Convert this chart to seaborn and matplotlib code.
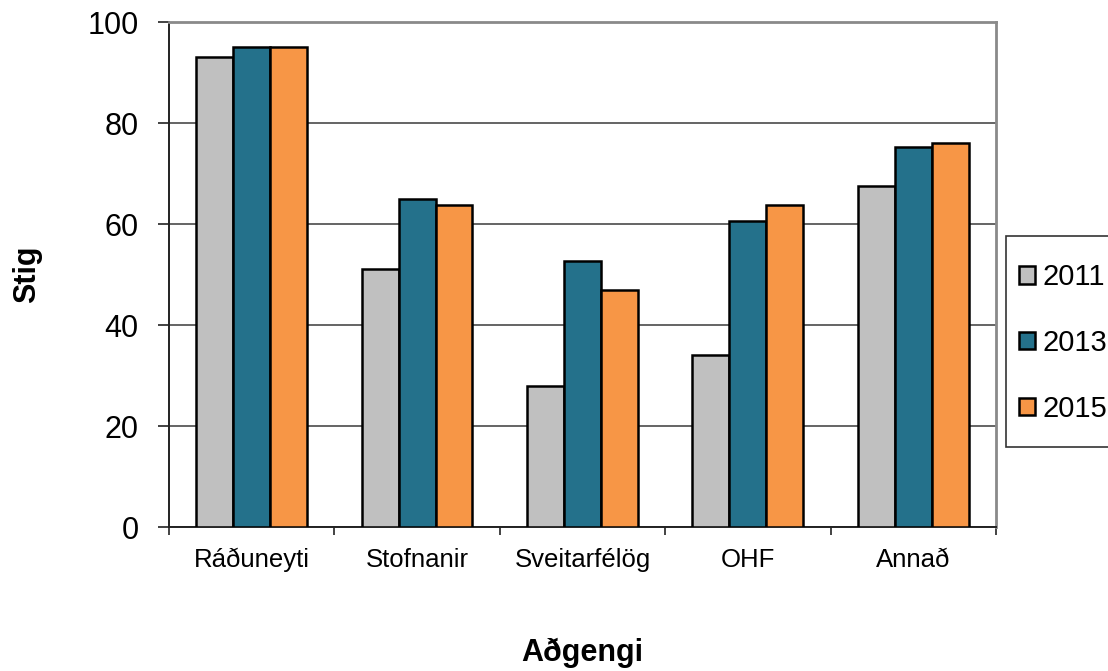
import numpy as np
import pandas as pd
import matplotlib
matplotlib.use("Agg")
import matplotlib.pyplot as plt
from matplotlib.patches import Rectangle
import seaborn as sns

# values
categories = ["Ráðuneyti", "Stofnanir", "Sveitarfélög", "OHF", "Annað"]
years = ["2011", "2013", "2015"]
vals_2011 = [93, 51, 28, 34, 67.5]
vals_2013 = [95, 65, 52.6, 60.5, 75.3]
vals_2015 = [95, 63.7, 47, 63.7, 76]
colors = ["#C0C0C0", "#24718B", "#F79646"]

df = pd.DataFrame({
    "cat": categories * 3,
    "year": [y for y in years for _ in categories],
    "val": vals_2011 + vals_2013 + vals_2015,
})

sns.set_style("white")
plt.rcParams["font.family"] = ["Liberation Sans", "DejaVu Sans"]
plt.rcParams["text.color"] = "black"
plt.rcParams["axes.labelcolor"] = "black"

fig = plt.figure(figsize=(11.08, 6.71), dpi=100)
ax = fig.add_axes([0.1525, 0.2146, 0.7464, 0.7526])

sns.barplot(data=df, x="cat", y="val", hue="year", palette=colors,
            width=0.67, edgecolor="black", linewidth=1.8, saturation=1,
            ax=ax, zorder=3)

ax.set_ylim(0, 100)
ax.set_yticks(np.arange(0, 101, 20))
ax.yaxis.grid(True, color="#3a3a3a", linewidth=1.1, zorder=0)
ax.set_axisbelow(True)

# x ticks at category boundaries
ax.set_xlim(-0.5, len(categories) - 0.5)
ax.set_xticks(np.arange(len(categories)))
ax.set_xticks(np.arange(-0.5, len(categories)), minor=True)
ax.tick_params(axis="x", which="major", length=0, pad=15, labelsize=18.5,
               labelcolor="black")
ax.tick_params(axis="x", which="minor", length=6, width=1.2, color="#222222",
               direction="out", bottom=True)
ax.tick_params(axis="y", length=8, width=1.2, color="#222222", pad=14,
               labelsize=22, labelcolor="black", direction="out", left=True)

for s in ["left", "bottom"]:
    ax.spines[s].set_color("#222222")
    ax.spines[s].set_linewidth(1.4)
for s in ["top", "right"]:
    ax.spines[s].set_color("#8a8a8a")
    ax.spines[s].set_linewidth(2)

ax.set_xlabel("Aðgengi", fontsize=22, fontweight="bold", labelpad=47)
ax.set_ylabel("Stig", fontsize=22, fontweight="bold")
ax.yaxis.set_label_coords(-0.153, 0.5)

handles, labels = ax.get_legend_handles_labels()
ax.get_legend().remove()

# legend frame (runs off the right edge like the reference)
fig.patches.append(Rectangle((1006 / 1108, 1 - 447 / 671), 0.2, 211 / 671,
                             transform=fig.transFigure, facecolor="white",
                             edgecolor="#333333", linewidth=1.2))
leg = fig.legend(handles, labels, loc="center left",
                 bbox_to_anchor=(1019 / 1108, 1 - 343 / 671), fontsize=21,
                 frameon=False, handlelength=0.55, handleheight=0.55,
                 handletextpad=0.25, labelspacing=1.3, borderpad=0,
                 borderaxespad=0)

fig.savefig("out.png", dpi=100)
